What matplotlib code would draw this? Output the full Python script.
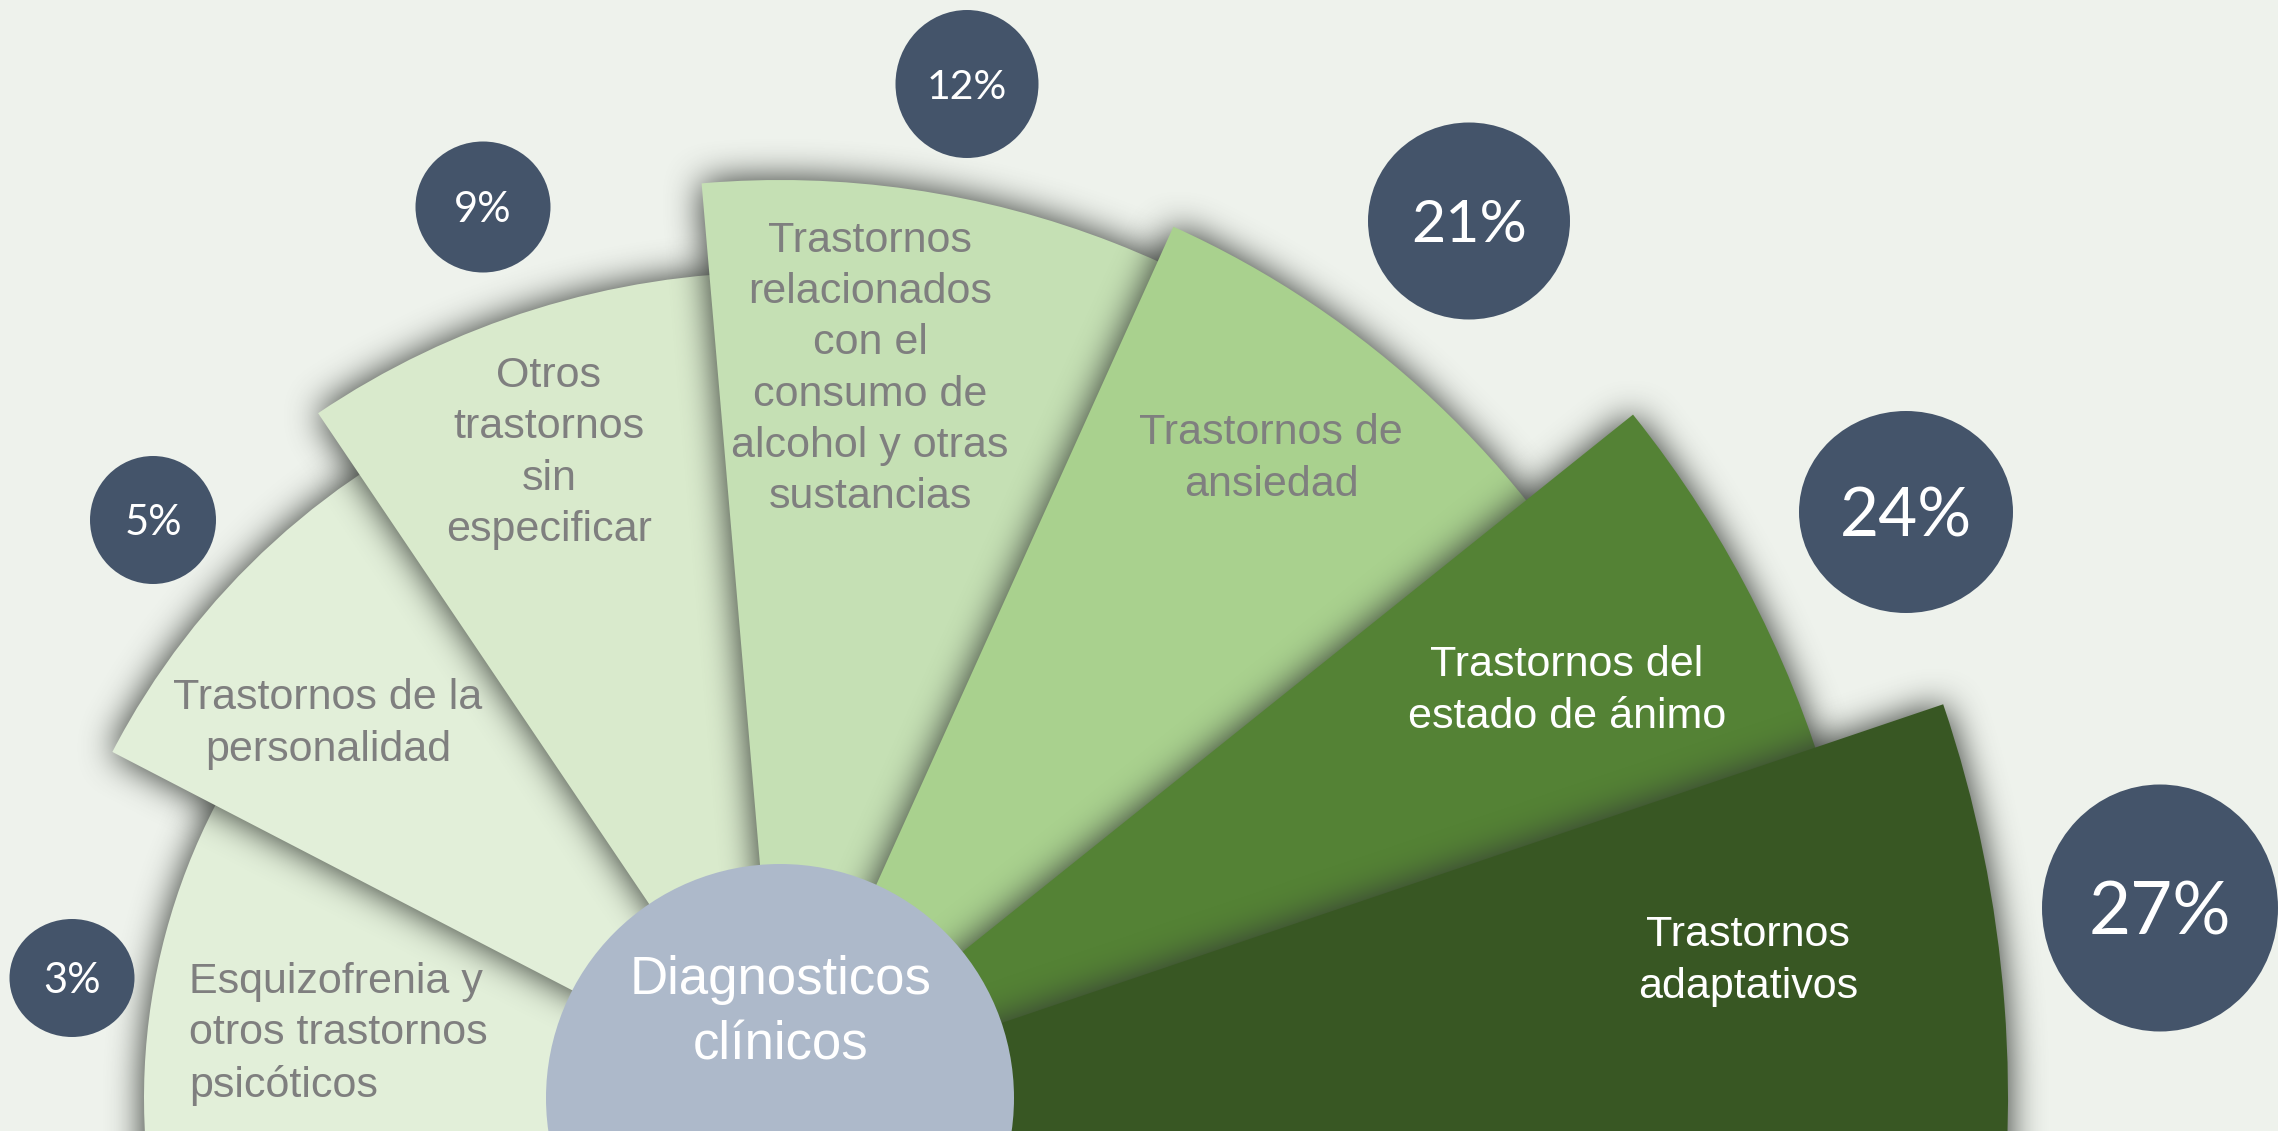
import numpy as np
import matplotlib.pyplot as plt
from matplotlib.patches import Wedge, Ellipse, Circle

# ---- data ----
categories = [
    "Esquizofrenia y\notros trastornos\npsicóticos",
    "Trastornos de la\npersonalidad",
    "Otros\ntrastornos\nsin\nespecificar",
    "Trastornos\nrelacionados\ncon el\nconsumo de\nalcohol y otras\nsustancias",
    "Trastornos de\nansiedad",
    "Trastornos del\nestado de ánimo",
    "Trastornos\nadaptativos",
]
percentages = [3, 5, 9, 12, 21, 24, 27]
center_label = "Diagnosticos\nclínicos"

# ---- layout (pixel space, y pointing down) ----
W, H = 2278, 1131
CX, CY = 780, 1098
radii = [636, 752, 826, 918, 956, 1093, 1228]
left_angles = [190, 152.6, 124.0, 94.9, 65.7, 38.7, 18.7]
RIGHT_ANGLE = -10
wedge_colors = ['#e2efd9', '#e2efd9', '#d9eacc', '#c5e0b4', '#a9d18e', '#548235', '#385723']
text_colors = ['#7f7f7f'] * 5 + ['white'] * 2
label_xy = [(189, 1034), (328, 724), (549, 453), (870, 369), (1271, 459), (1567, 691), (1748, 961)]
label_ha = ['left'] + ['center'] * 6

bubble_xy = [(72, 978), (153, 520), (483, 207), (967, 84), (1469, 221), (1906, 512), (2160, 908)]
bubble_wh = [(125, 118), (126, 128), (135, 131), (143, 148), (202, 197), (214, 202), (236, 247)]
bubble_fs = [30, 30, 30, 29.5, 42.5, 48.5, 52.3]

BG = '#eef2ec'
BUBBLE = '#44546a'
CENTER_FILL = '#adb9ca'


def blur1d(a, r, axis):
    pad = [(0, 0), (0, 0)]
    pad[axis] = (r + 1, r)
    c = np.cumsum(np.pad(a, pad, mode='edge'), axis=axis)
    n = a.shape[axis]
    hi = np.take(c, np.arange(2 * r + 1, 2 * r + 1 + n), axis=axis)
    lo = np.take(c, np.arange(0, n), axis=axis)
    return (hi - lo) / (2 * r + 1)


def soft_shadow(mask, r=8, passes=3):
    out = mask
    for _ in range(passes):
        out = blur1d(out, r, 0)
        out = blur1d(out, r, 1)
    return out


fig = plt.figure(figsize=(W / 100, H / 100), dpi=100)
fig.patch.set_facecolor(BG)
ax = fig.add_axes([0, 0, 1, 1])
ax.set_facecolor(BG)

# half-resolution grid for the shadow masks
xs = np.arange(0, W, 2) + 1.0
ys = np.arange(0, H, 2) + 1.0
X, Y = np.meshgrid(xs, ys)
dist = np.hypot(X - CX, Y - CY)
ang = np.degrees(np.arctan2(CY - Y, X - CX))
ang = np.where(ang < -90, ang + 360, ang)
ext = (0, 2 * len(xs), 2 * len(ys), 0)

for i, (r, a) in enumerate(zip(radii, left_angles)):
    mask = ((dist <= r) & (ang <= a) & (ang >= RIGHT_ANGLE)).astype(np.float32)
    sh = soft_shadow(mask)
    rgba = np.zeros(mask.shape + (4,), dtype=np.float32)
    rgba[..., 0] = 0.2
    rgba[..., 1] = 0.22
    rgba[..., 2] = 0.2
    rgba[..., 3] = np.clip(1.05 * sh, 0, 1)
    ax.imshow(rgba, extent=ext, interpolation='bilinear', aspect='auto', zorder=2 * i + 1)
    # y axis is inverted, so visual angles are mirrored
    ax.add_patch(Wedge((CX, CY), r, -a, -RIGHT_ANGLE, facecolor=wedge_colors[i],
                       edgecolor='none', zorder=2 * i + 2))
    ax.text(label_xy[i][0], label_xy[i][1], categories[i], ha=label_ha[i], va='center',
            multialignment=label_ha[i], fontsize=31, color=text_colors[i],
            family=['Liberation Sans', 'DejaVu Sans'], linespacing=1.36, zorder=40)

ax.add_patch(Circle((CX, CY), 234, facecolor=CENTER_FILL, edgecolor='none', zorder=30))
ax.text(CX + 1, 1013, center_label, ha='center', va='center', fontsize=38, color='white',
        family=['Liberation Sans', 'DejaVu Sans'], linespacing=1.4, zorder=41)

for (bx, by), (bw, bh), fs, p in zip(bubble_xy, bubble_wh, bubble_fs, percentages):
    ax.add_patch(Ellipse((bx, by), bw, bh, facecolor=BUBBLE, edgecolor='none', zorder=35))
    cap = 0.7165 * fs * 100 / 72
    ax.text(bx, by + cap / 2, f"{p}%", ha='center', va='baseline', fontsize=fs,
            color='white', family=['Lato', 'DejaVu Sans'], zorder=42)

ax.set_xlim(0, W)
ax.set_ylim(H, 0)
ax.axis('off')

fig.savefig('out.png', dpi=100, facecolor=BG)
